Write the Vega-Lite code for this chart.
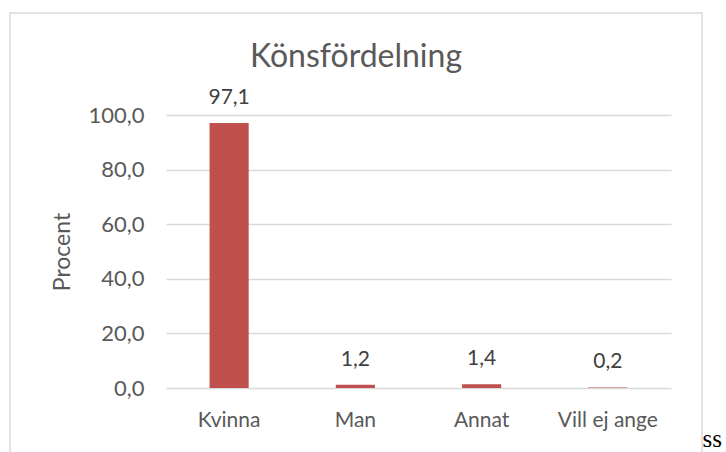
{
  "$schema": "https://vega.github.io/schema/vega-lite/v6.json",
  "autosize": {"type": "none"},
  "width": 692,
  "height": 450,
  "padding": {"left": 10, "top": 13, "right": 24, "bottom": 0},
  "background": "white",
  "config": {
    "locale": {"number": {"decimal": ",", "thousands": " ", "grouping": [3], "currency": ["", " kr"]}},
    "view": {"stroke": "#d9d9d9", "strokeWidth": 1.5},
    "font": "Lato"
  },
  "title": {
    "text": "Könsfördelning",
    "frame": "group",
    "anchor": "middle",
    "font": "Lato",
    "fontSize": 32,
    "fontWeight": "normal",
    "color": "#595959",
    "baseline": "alphabetic",
    "offset": -86
  },
  "data": {
    "values": [
      {"kategori": "Kvinna", "procent": 97.1},
      {"kategori": "Man", "procent": 1.2},
      {"kategori": "Annat", "procent": 1.4},
      {"kategori": "Vill ej ange", "procent": 0.2}
    ]
  },
  "encoding": {
    "x": {
      "field": "kategori",
      "type": "nominal",
      "sort": null,
      "scale": {"range": [156, 661], "paddingInner": 0.69, "paddingOuter": 0.345},
      "axis": {
        "offset": -75,
        "labelAngle": 0,
        "labelFontSize": 21,
        "labelColor": "#595959",
        "labelPadding": 21,
        "ticks": false,
        "domain": false,
        "grid": false,
        "title": "ss",
        "titleFont": "Liberation Serif",
        "titleFontSize": 25,
        "titleFontWeight": "normal",
        "titleColor": "#000000",
        "titleX": 692,
        "titleY": 58,
        "titleAlign": "left",
        "titleAnchor": null,
        "titleBaseline": "alphabetic"
      }
    },
    "y": {
      "field": "procent",
      "type": "quantitative",
      "scale": {"domain": [0, 100], "range": [375, 102], "nice": false},
      "axis": {
        "offset": -156,
        "values": [0, 20, 40, 60, 80, 100],
        "format": ".1f",
        "labelFontSize": 22,
        "labelColor": "#595959",
        "labelPadding": 22,
        "ticks": false,
        "domain": false,
        "gridColor": "#d9d9d9",
        "gridWidth": 1.5,
        "title": "Procent",
        "titleFontSize": 23,
        "titleFontWeight": "normal",
        "titleColor": "#595959",
        "titlePadding": 13
      }
    }
  },
  "layer": [
    {"mark": {"type": "bar", "color": "#c0504d"}},
    {
      "mark": {"type": "text", "fontSize": 21, "color": "#404040", "baseline": "alphabetic", "dy": -19},
      "encoding": {"text": {"field": "procent", "type": "quantitative", "format": ".1f"}}
    }
  ]
}
